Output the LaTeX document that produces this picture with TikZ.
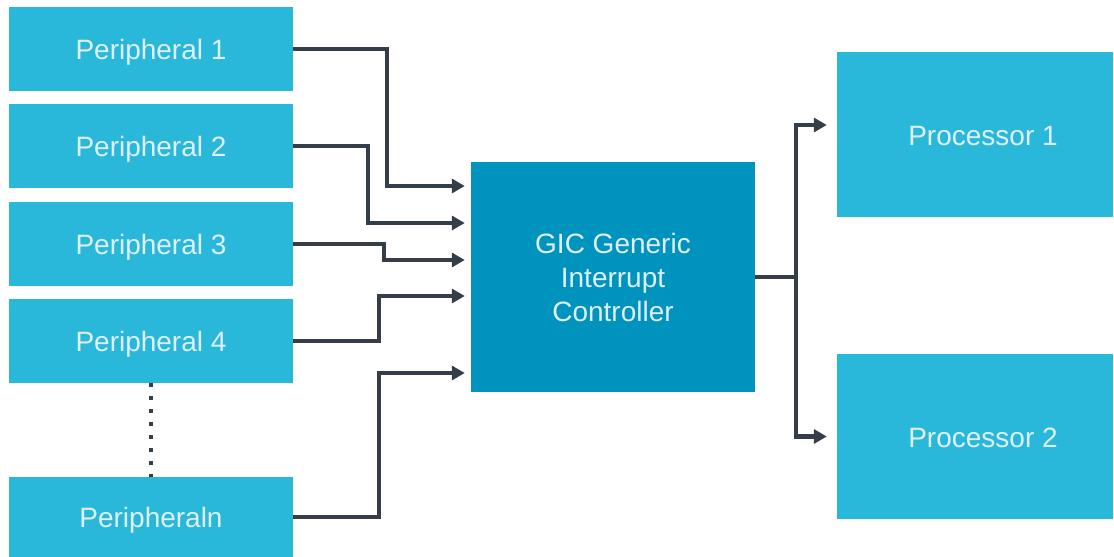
\documentclass[tikz,border=0pt]{standalone}
\usepackage{fontspec}
\setmainfont{Liberation Sans}
\usetikzlibrary{
    positioning,
    arrows.meta,
    calc
}
\definecolor{periBlue}{RGB}{41, 184, 218}
\definecolor{gicBlue}{RGB}{0, 147, 190}
\definecolor{wireGray}{RGB}{52, 62, 72}
\definecolor{labelWhite}{RGB}{222, 240, 246}

\begin{document}
\begin{tikzpicture}[x=1pt, y=1pt, >={Triangle[length=13pt, width=14pt]},
    box/.style={fill=periBlue, text=labelWhite, inner sep=0pt,
        minimum width=284pt, minimum height=84pt,
        font=\fontsize{28}{34}\selectfont, align=center},
    lowtext/.style={text height=27pt, text depth=6pt},
    wire/.style={wireGray, line width=4.5pt}]
        \useasboundingbox (0,0) rectangle (1114,-557);

        % 周辺装置
        \node[box, lowtext] (p1) at (151,-49) {Peripheral 1};
        \node[box, lowtext] (p2) at (151,-146) {Peripheral 2};
        \node[box, lowtext] (p3) at (151,-244) {Peripheral 3};
        \node[box, lowtext] (p4) at (151,-341) {Peripheral 4};
        \node[box, lowtext, minimum height=80pt] (pn) at (151,-517) {Peripheraln};

        % GIC とプロセッサ
        \node[box, fill=gicBlue, minimum height=230pt] (gic) at (613,-277)
            {GIC Generic\\Interrupt\\Controller};
        \node[box, lowtext, minimum width=276pt, minimum height=165pt] (cpu1) at (975,-134.5)
            {\hspace*{16pt}Processor 1};
        \node[box, lowtext, minimum width=276pt, minimum height=165pt] (cpu2) at (975,-436.5)
            {\hspace*{16pt}Processor 2};

        % 割り込み線
        \draw[wire, ->, shorten >=6pt] (p1.east) -- ++(94,0) |- ($(gic.west)+(0,91)$);
        \draw[wire, ->, shorten >=6pt] (p2.east) -- ++(75,0) |- ($(gic.west)+(0,54)$);
        \draw[wire, ->, shorten >=6pt] (p3.east) -- ++(91,0) |- ($(gic.west)+(0,17)$);
        \draw[wire, ->, shorten >=6pt] (p4.east) -- ++(86,0) |- ($(gic.west)+(0,-19)$);
        \draw[wire, ->, shorten >=6pt] (pn.east) -- ++(86,0) |- ($(gic.west)+(0,-96)$);

        \draw[wireGray, line width=3.5pt, dash pattern=on 4pt off 9pt] (p4.south) -- (pn.north);

        % 出力
        \draw[wire] (gic.east) -- ++(41,0) coordinate (split);
        \draw[wire, ->, shorten >=10pt] (split) |- ($(cpu1.west)+(0,9.5)$);
        \draw[wire, ->, shorten >=10pt] (split) |- (cpu2.west);
    \end{tikzpicture}
\end{document}
